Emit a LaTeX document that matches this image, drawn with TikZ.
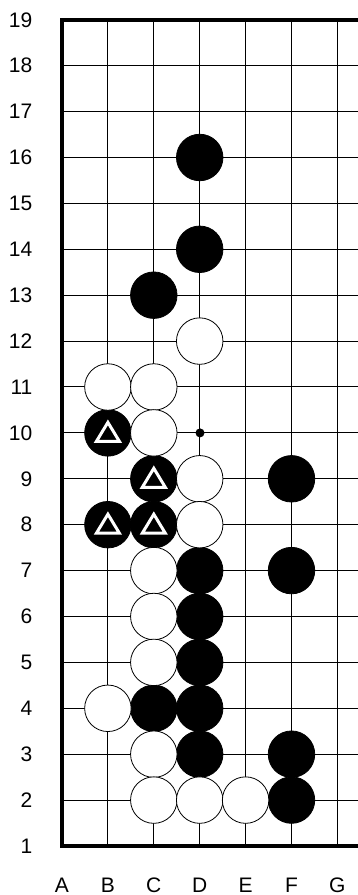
\documentclass[tikz,border=0pt]{standalone}
\usepackage{fontspec}
\setmainfont{Liberation Sans}
\begin{document}
\begin{tikzpicture}[x=1pt,y=1pt,
  gridline/.style={line width=1pt,black},
  border/.style={line width=3.5pt,black},
  bstone/.style={circle,fill=black,draw=black,line width=0.8pt,minimum size=46.5pt,inner sep=0pt},
  wstone/.style={circle,fill=white,draw=black,line width=0.8pt,minimum size=46.5pt,inner sep=0pt},
  rowlab/.style={anchor=east,inner sep=0pt,font=\fontsize{21}{21}\selectfont},
  collab/.style={anchor=center,inner sep=0pt,font=\fontsize{21}{21}\selectfont},
  tri/.style={draw=white,line width=3pt,line join=miter}
]
\useasboundingbox (0,0) rectangle (358,895);
\fill[white] (0,0) rectangle (358,895);
% grid
\foreach \c in {2,...,7} \draw[gridline] ({16.1+45.9*\c},{3.1+45.9}) -- ({16.1+45.9*\c},{3.1+45.9*19});
\foreach \r in {2,...,18} \draw[gridline] (62,{3.1+45.9*\r}) -- (358,{3.1+45.9*\r});
\draw[border] (358,{3.1+45.9*19}) -- (62,{3.1+45.9*19}) -- (62,{3.1+45.9}) -- (358,{3.1+45.9});
% labels
\foreach \r in {1,...,19} \node[rowlab] (row\r) at (32.5,{3.1+45.9*\r}) {\r};
\foreach \c/\l in {1/A,2/B,3/C,4/D,5/E,6/F,7/G} \node[collab] (col\l) at ({16.1+45.9*\c},9.5) {\l};
% star point
\fill (200,{3.1+45.9*10}) circle[radius=4.5pt];
% black stones
\foreach \n/\c/\r in {D16/4/16,D14/4/14,C13/3/13,B10/2/10,C9/3/9,B8/2/8,C8/3/8,D7/4/7,F9/6/9,F7/6/7,D6/4/6,D5/4/5,C4/3/4,D4/4/4,D3/4/3,F3/6/3,F2/6/2}
  \node[bstone] (\n) at ({16.1+45.9*\c},{3.1+45.9*\r}) {};
% white stones
\foreach \n/\c/\r in {D12/4/12,B11/2/11,C11/3/11,C10/3/10,D9/4/9,D8/4/8,C7/3/7,C6/3/6,C5/3/5,B4/2/4,C3/3/3,C2/3/2,D2/4/2,E2/5/2}
  \node[wstone] (\n) at ({16.1+45.9*\c},{3.1+45.9*\r}) {};
% triangle marks
\foreach \n in {B10,C9,B8,C8}
  \draw[tri] ([shift={(0,10.5)}]\n.center) -- ([shift={(-11.5,-8.5)}]\n.center) -- ([shift={(11.5,-8.5)}]\n.center) -- cycle;
\end{tikzpicture}
\end{document}
